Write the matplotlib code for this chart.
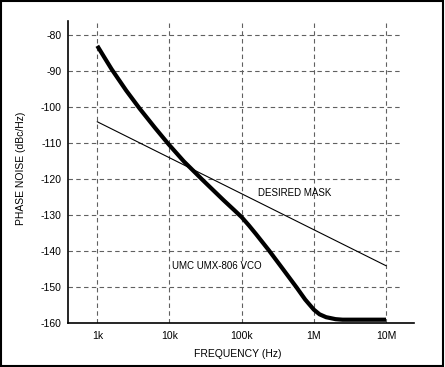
import numpy as np
import matplotlib
matplotlib.use('Agg')
import matplotlib.pyplot as plt
from matplotlib.patches import Rectangle

plt.rcParams['font.family'] = ['Liberation Sans', 'DejaVu Sans']
plt.rcParams['axes.unicode_minus'] = False

# VCO phase noise
vco_freq = [1000, 1260, 1580, 2510, 3850, 6310, 9680, 15800, 28200, 39800,
            56200, 79400, 1.0e5, 1.26e5, 1.58e5, 2.4e5, 3.72e5, 5.75e5, 7.59e5,
            1.0e6, 1.2e6, 1.48e6, 2.0e6, 2.5e6, 1.0e7]
vco_dbc = [-82.9, -86.2, -89.4, -95.3, -100.3, -105.7, -110.2, -115.0, -120.0, -122.9,
           -125.8, -128.6, -130.5, -132.8, -135.2, -139.8, -144.9, -150, -153.4,
           -156.2, -157.5, -158.3, -158.85, -159, -159]

# desired mask
mask_freq = [1e3, 1e7]
mask_dbc = [-104, -144]

xticks = [1e3, 1e4, 1e5, 1e6, 1e7]
xticklabels = ['1k', '10k', '100k', '1M', '10M']
yticks = [-80, -90, -100, -110, -120, -130, -140, -150, -160]

fig = plt.figure(figsize=(4.45, 3.67), dpi=100)
ax = fig.add_axes([68/445, 1 - 323.3/367, (414 - 68)/445, (323.3 - 21)/367])

ax.set_xscale('log')
ax.set_xlim(10**2.594, 10**7.388)
ax.set_ylim(-160, -76.0)

grid_kw = dict(color='#606060', lw=0.8, dashes=(4, 3), zorder=1)
for f in xticks:
    ax.axvline(f, **grid_kw)
for v in yticks[:-1]:
    ax.axhline(v, xmin=0, xmax=0.96, **grid_kw)

ax.plot(mask_freq, mask_dbc, color='black', lw=0.8, zorder=3)
ax.plot(vco_freq, vco_dbc, color='black', lw=3.0, zorder=4,
        solid_capstyle='butt', solid_joinstyle='round')

ax.text(10**5.22, -123.9, 'DESIRED MASK', fontsize=7, va='center', ha='left')
ax.text(10**4.04, -144.1, 'UMC UMX-806 VCO', fontsize=7, va='center', ha='left')

ax.set_xticks(xticks)
ax.set_xticklabels(xticklabels)
ax.minorticks_off()
ax.set_yticks(yticks)
ax.tick_params(axis='both', length=0, labelsize=7.5)
ax.tick_params(axis='y', pad=4.5)
ax.tick_params(axis='x', pad=5.5)

for s in ['top', 'right']:
    ax.spines[s].set_visible(False)
for s in ['left', 'bottom']:
    ax.spines[s].set_linewidth(1.2)

fig.text(21/445, 1 - 168/367, 'PHASE NOISE (dBc/Hz)', rotation=90,
         fontsize=7.5, ha='center', va='center')
fig.text(237.5/445, 1 - 354/367, 'FREQUENCY (Hz)', fontsize=7.5,
         ha='center', va='center')

fig.patches.append(Rectangle((0.002, 0.003), 0.994, 0.993, transform=fig.transFigure,
                             fill=False, edgecolor='black', lw=1.5))

fig.savefig('out.png', dpi=100)
